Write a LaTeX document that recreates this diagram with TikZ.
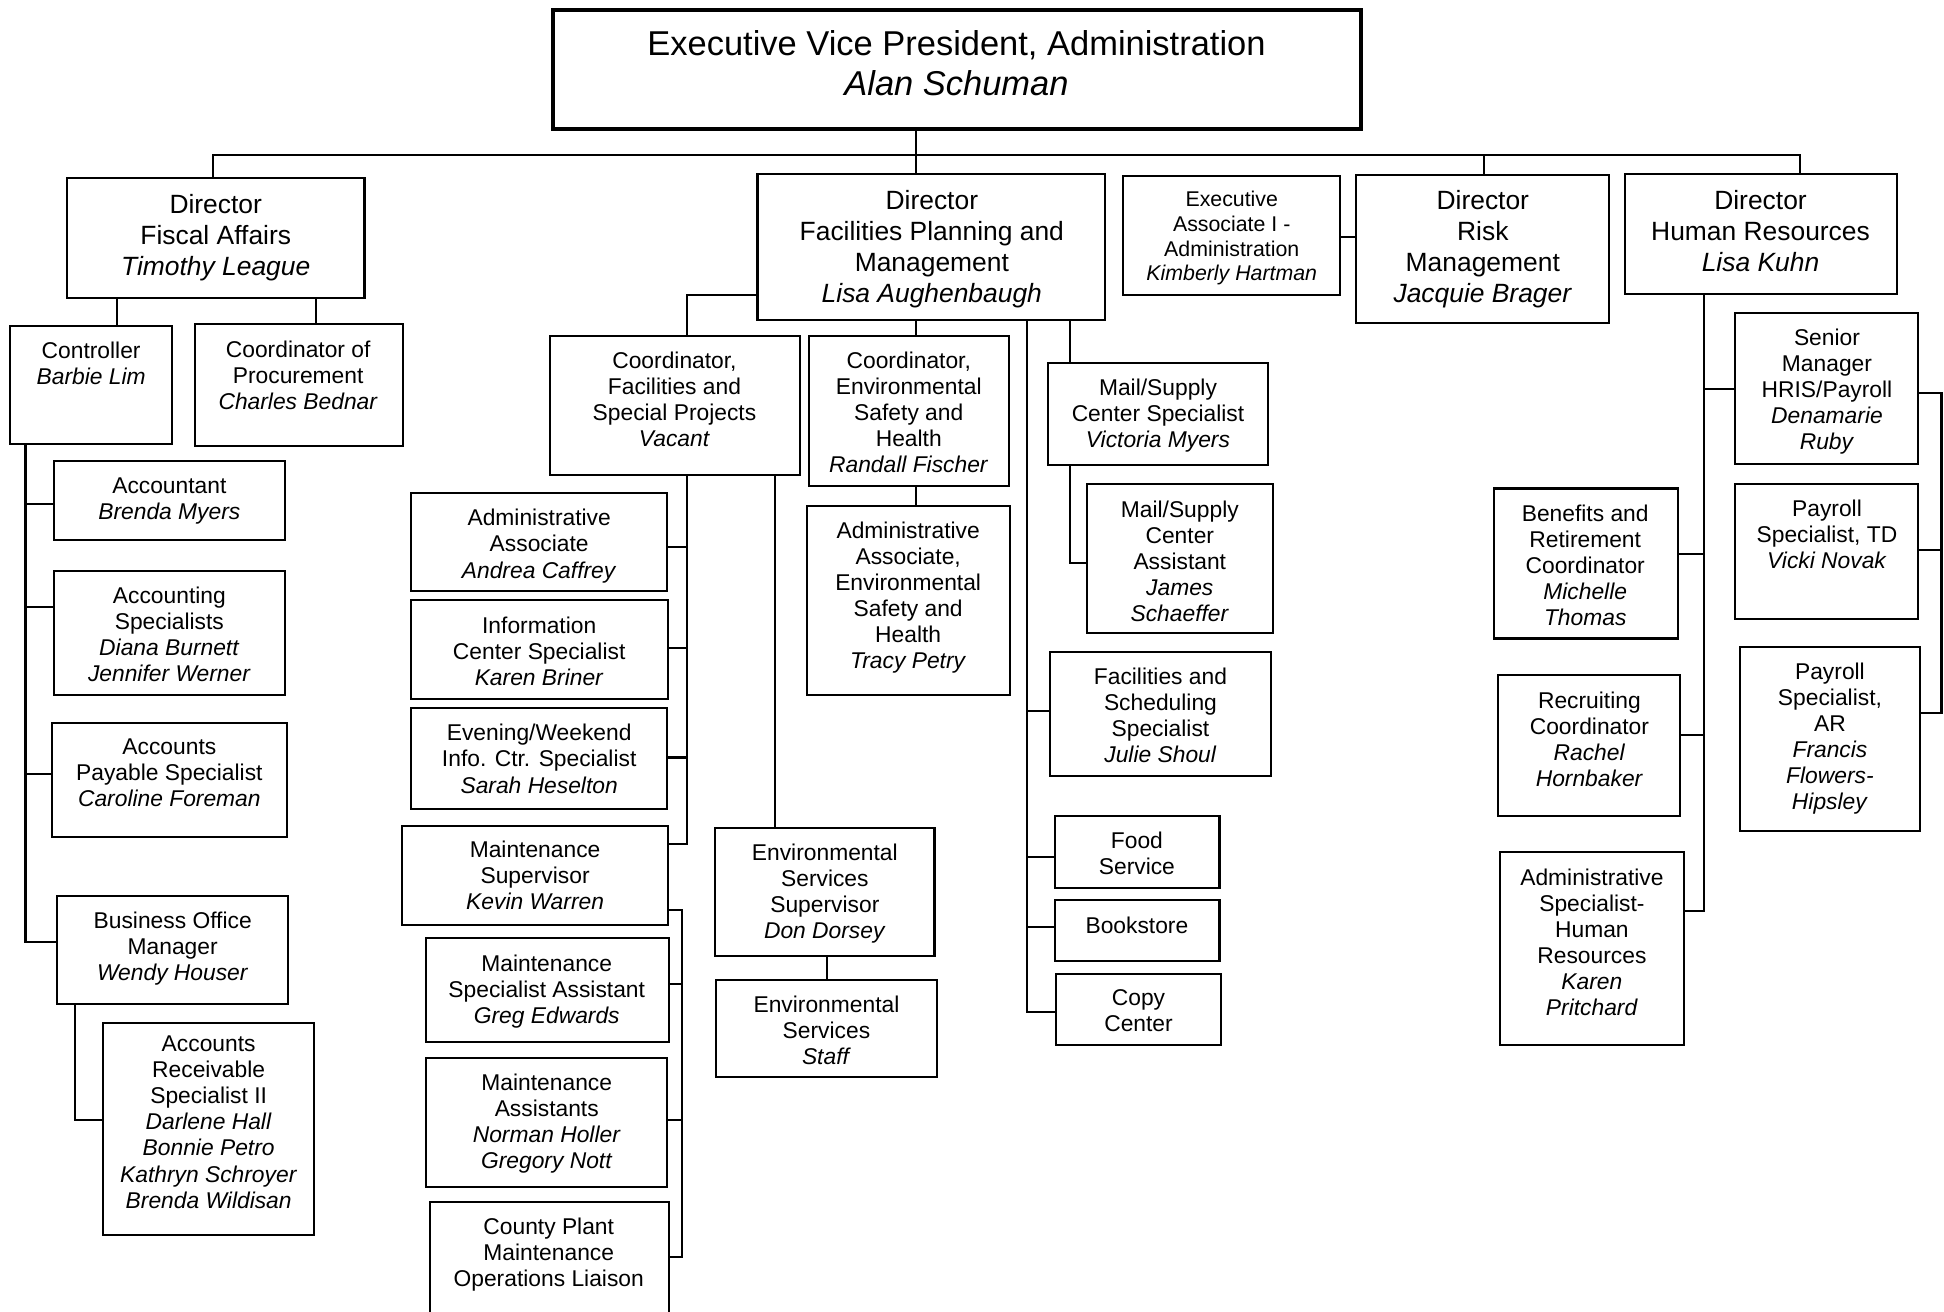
\documentclass[tikz,border=0pt]{standalone}
\usepackage{fontspec}
\setmainfont{Liberation Sans}
\tikzset{
  box/.style={draw, rectangle, line width=1.7pt, inner sep=0pt, outer sep=0pt},
  evpbox/.style={box, line width=3.4pt},
  conn/.style={line width=1.7pt, line cap=rect},
  tbase/.style={align=center, inner sep=0pt, outer sep=0pt, execute at begin node=\strut, execute at end node=\strut},
  ts/.style={tbase, font=\fontsize{18.4}{21}\selectfont},
  tea/.style={tbase, font=\fontsize{17.2}{20}\selectfont},
  td/.style={tbase, font=\fontsize{21.3}{25}\selectfont},
  tx/.style={tbase, font=\fontsize{27.8}{32}\selectfont}
}
\newcommand{\bx}[6][box]{\node[#1, minimum width={((#5)-(#3))*1pt}, minimum height={((#6)-(#4))*1pt}] (#2) at ({((#3)+(#5))/2},{((#4)+(#6))/2}) {};}
\newcommand{\lbl}[5]{\node[#1] (#2) at (#3,{(#4)+3.3}) {#5};}
\begin{document}
\begin{tikzpicture}[x=1pt,y=-1pt]
\fill[white] (0,0) rectangle (1568,1058);
\clip (0,0) rectangle (1568,1058);
\useasboundingbox (0,0) rectangle (1568,1058);

% ---------- boxes ----------
\bx[evpbox]{evp}{446}{8}{1098}{104}
\bx{fiscal}{54}{143.4}{294}{240}
\bx{ctrl}{8}{263}{139}{358}
\bx{proc}{157}{261.5}{325}{360}
\bx{acct}{43.4}{372}{230}{435.4}
\bx{acsp}{43.4}{460.7}{230}{560.8}
\bx{ap}{41.7}{583}{231.6}{675}
\bx{bom}{46}{722.9}{232.3}{810}
\bx{ar}{83.3}{825}{253.3}{996}
\bx{facil}{611}{140.3}{891.3}{258}
\bx{cfsp}{443.3}{271}{645}{383.4}
\bx{ces}{652.3}{271}{813.6}{392.3}
\bx{aae}{651}{408.1}{814.6}{560.8}
\bx{ea}{906}{141.7}{1081}{238}
\bx{risk}{1093.7}{141}{1298}{260.3}
\bx{hr}{1311}{140.3}{1530}{237.1}
\bx{msc}{845.6}{292.5}{1022.8}{375.3}
\bx{msa}{876.6}{390.7}{1026.6}{510.6}
\bx{fss}{846.7}{525.9}{1025.3}{625.9}
\bx{food}{851}{658.4}{983.6}{716.2}
\bx{book}{851}{726.2}{983.6}{775.4}
\bx{copy}{852}{785.3}{984.9}{843}
\bx{aa}{331.6}{397.6}{538.3}{476.7}
\bx{ic}{331.6}{484.2}{538.5}{563.5}
\bx{ew}{331.6}{571}{538}{652.8}
\bx{ms}{324}{666.2}{538.5}{746.3}
\bx{msb}{343.3}{756.6}{539.3}{840.5}
\bx{mas}{343.3}{853.4}{538.3}{957.4}
\bx{cpl}{346.7}{969.5}{539.3}{1080}
\bx{ess}{576.7}{667.6}{753.7}{771}
\bx{staff}{577.7}{790.7}{756}{868.7}
\bx{sm}{1399.6}{252.7}{1547}{374}
\bx{ptd}{1399.6}{390.6}{1547}{499}
\bx{par}{1403.6}{521.9}{1548.3}{670}
\bx{ben}{1204.7}{394}{1353.6}{515}
\bx{rec}{1208}{544.2}{1355.3}{658.4}
\bx{ahr}{1209.6}{687.2}{1358}{843}

% ---------- texts ----------
\lbl{tx}{Tevp}{771.5}{52.5}{Executive Vice President, Administration\\\textit{Alan Schuman}}
\lbl{td}{Tfiscal}{174}{189.9}{Director\\Fiscal Affairs\\\textit{Timothy League}}
\lbl{ts}{Tctrl}{73.5}{292.5}{Controller\\\textit{Barbie Lim}}
\lbl{ts}{Tproc}{240.5}{302.7}{Coordinator of\\Procurement\\\textit{Charles Bednar}}
\lbl{ts}{Tacct}{136.6}{402}{Accountant\\\textit{Brenda Myers}}
\lbl{ts}{Tacsp}{136.6}{511.7}{Accounting\\Specialists\\\textit{Diana Burnett}\\\textit{Jennifer Werner}}
\lbl{ts}{Tap}{136.6}{623.4}{Accounts\\Payable Specialist\\\textit{Caroline Foreman}}
\lbl{ts}{Tbom}{139.3}{763}{Business Office\\Manager\\\textit{Wendy Houser}}
\lbl{ts}{Tar}{168.3}{904.9}{Accounts\\Receivable\\Specialist II\\\textit{Darlene Hall}\\\textit{Bonnie Petro}\\\textit{Kathryn Schroyer}\\\textit{Brenda Wildisan}}
\lbl{td}{Tfacil}{751.6}{199}{Director\\Facilities Planning and\\Management\\\textit{Lisa Aughenbaugh}}
\lbl{ts}{Tcfsp}{544}{321.5}{Coordinator,\\Facilities and\\Special Projects\\\textit{Vacant}}
\lbl{ts}{Tces}{733}{332}{Coordinator,\\Environmental\\Safety and\\Health\\\textit{Randall Fischer}}
\lbl{ts}{Taae}{732.5}{480.1}{Administrative\\Associate,\\Environmental\\Safety and\\Health\\\textit{Tracy Petry}}
\lbl{tea}{Tea}{993.5}{190}{Executive\\Associate I -\\Administration\\\textit{Kimberly Hartman}}
\lbl{td}{Trisk}{1196}{199.6}{Director\\Risk\\Management\\\textit{Jacquie Brager}}
\lbl{td}{Thr}{1420}{186.9}{Director\\Human Resources\\\textit{Lisa Kuhn}}
\lbl{ts}{Tmsc}{934}{333}{Mail/Supply\\Center Specialist\\\textit{Victoria Myers}}
\lbl{ts}{Tmsa}{951.6}{452.2}{Mail/Supply\\Center\\Assistant\\\textit{James}\\\textit{Schaeffer}}
\lbl{ts}{Tfss}{936}{577}{Facilities and\\Scheduling\\Specialist\\\textit{Julie Shoul}}
\lbl{ts}{Tfood}{917}{688}{Food\\Service}
\lbl{ts}{Tbook}{917}{745.5}{Bookstore}
\lbl{ts}{Tcopy}{918.3}{815.3}{Copy\\Center}
\lbl{ts}{Taa}{434.9}{438.4}{Administrative\\Associate\\\textit{Andrea Caffrey}}
\lbl{ts}{Tic}{434.9}{524.8}{Information\\Center Specialist\\\textit{Karen Briner}}
\lbl{ts}{Tew}{434.9}{611.8}{Evening/Weekend\\Info. Ctr. Specialist\\\textit{Sarah Heselton}}
\lbl{ts}{Tms}{431.6}{706}{Maintenance\\Supervisor\\\textit{Kevin Warren}}
\lbl{ts}{Tmsb}{441}{797.4}{Maintenance\\Specialist Assistant\\\textit{Greg Edwards}}
\lbl{ts}{Tmas}{441}{904.5}{Maintenance\\Assistants\\\textit{Norman Holler}\\\textit{Gregory Nott}}
\lbl{ts}{Tcpl}{442.6}{1010}{County Plant\\Maintenance\\Operations Liaison}
\lbl{ts}{Tess}{665.3}{719}{Environmental\\Services\\Supervisor\\\textit{Don Dorsey}}
\lbl{ts}{Tstaff}{666.6}{831}{Environmental\\Services\\\textit{Staff}}
\lbl{ts}{Tsm}{1473.6}{314}{Senior\\Manager\\HRIS/Payroll\\\textit{Denamarie}\\\textit{Ruby}}
\lbl{ts}{Tptd}{1473.6}{431}{Payroll\\Specialist, TD\\\textit{Vicki Novak}}
\lbl{ts}{Tpar}{1476}{593.5}{Payroll\\Specialist,\\AR\\\textit{Francis}\\\textit{Flowers-}\\\textit{Hipsley}}
\lbl{ts}{Tben}{1278.6}{455.7}{Benefits and\\Retirement\\Coordinator\\\textit{Michelle}\\\textit{Thomas}}
\lbl{ts}{Trec}{1282}{595.8}{Recruiting\\Coordinator\\\textit{Rachel}\\\textit{Hornbaker}}
\lbl{ts}{Tahr}{1284}{759.8}{Administrative\\Specialist-\\Human\\Resources\\\textit{Karen}\\\textit{Pritchard}}

% ---------- connectors ----------
% top bus
\coordinate (jF) at (172,125);
\coordinate (jD) at (739,125);
\coordinate (jR) at (1197,125);
\coordinate (jH) at (1452,125);
\draw[conn] (evp.south -| jD) -- (facil.north -| jD);
\draw[conn] (fiscal.north -| jF) -- (jF) -- (jH) -- (hr.north -| jH);
\draw[conn] (jR) -- (risk.north -| jR);

% fiscal affairs
\coordinate (xCt) at (94.5,0);
\coordinate (xPr) at (255,0);
\draw[conn] (fiscal.south -| xCt) -- (ctrl.north -| xCt);
\draw[conn] (fiscal.south -| xPr) -- (proc.north -| xPr);
\coordinate (jB) at (20.6,760);
\draw[conn] (ctrl.south -| jB) -- (jB) -- (jB -| bom.west);
\coordinate (j1) at (20.6,406.5);
\coordinate (j2) at (20.6,489.6);
\coordinate (j3) at (20.6,624);
\draw[conn] (j1) -- (j1 -| acct.west);
\draw[conn] (j2) -- (j2 -| acsp.west);
\draw[conn] (j3) -- (j3 -| ap.west);
\coordinate (jAR) at (60.3,903);
\draw[conn] (bom.south -| jAR) -- (jAR) -- (jAR -| ar.west);

% facilities
\coordinate (jCF) at (554,237.7);
\draw[conn] (jCF -| facil.west) -- (jCF) -- (cfsp.north -| jCF);
\coordinate (xCE) at (738.7,0);
\draw[conn] (facil.south -| xCE) -- (ces.north -| xCE);
\coordinate (jCopy) at (828.6,816.3);
\draw[conn] (facil.south -| jCopy) -- (jCopy) -- (jCopy -| copy.west);
\coordinate (jFs) at (828.6,573.5);
\coordinate (jFo) at (828.6,691.2);
\coordinate (jBk) at (828.6,747.7);
\draw[conn] (jFs) -- (jFs -| fss.west);
\draw[conn] (jFo) -- (jFo -| food.west);
\draw[conn] (jBk) -- (jBk -| book.west);
\coordinate (xMl) at (863.3,0);
\draw[conn] (facil.south -| xMl) -- (msc.north -| xMl);
\coordinate (jMA) at (863.3,454.1);
\draw[conn] (msc.south -| jMA) -- (jMA) -- (jMA -| msa.west);

% coordinator facilities
\coordinate (jMS) at (554.3,681);
\draw[conn] (cfsp.south -| jMS) -- (jMS) -- (jMS -| ms.east);
\coordinate (jAa) at (554.3,441.2);
\coordinate (jIc) at (554.3,522.4);
\coordinate (jEw) at (554.3,611);
\draw[conn] (jAa) -- (jAa -| aa.east);
\draw[conn] (jIc) -- (jIc -| ic.east);
\draw[conn] (jEw) -- (jEw -| ew.east);
\coordinate (xES) at (625,0);
\draw[conn] (cfsp.south -| xES) -- (ess.north -| xES);
\coordinate (jMt) at (550.3,734.3);
\coordinate (jCP) at (550.3,1014);
\draw[conn] (jMt -| ms.east) -- (jMt) -- (jCP) -- (jCP -| cpl.east);
\coordinate (jMb) at (550.3,794);
\coordinate (jMa) at (550.3,903.6);
\draw[conn] (jMb) -- (jMb -| msb.east);
\draw[conn] (jMa) -- (jMa -| mas.east);
\coordinate (xSt) at (667,0);
\draw[conn] (ess.south -| xSt) -- (staff.north -| xSt);
\coordinate (xAE) at (738.6,0);
\draw[conn] (ces.south -| xAE) -- (aae.north -| xAE);

% exec associate
\coordinate (jEA) at (0,191);
\draw[conn] (ea.east |- jEA) -- (risk.west |- jEA);

% human resources
\coordinate (jAH) at (1374.3,735);
\draw[conn] (hr.south -| jAH) -- (jAH) -- (jAH -| ahr.east);
\coordinate (jSm) at (1374.3,313.8);
\coordinate (jBe) at (1374.3,446.6);
\coordinate (jRe) at (1374.3,593);
\draw[conn] (jSm) -- (jSm -| sm.west);
\draw[conn] (jBe) -- (jBe -| ben.east);
\draw[conn] (jRe) -- (jRe -| rec.east);
\coordinate (jSR) at (1566,316.7);
\coordinate (jPA) at (1566,575);
\coordinate (jPT) at (1566,443.8);
\draw[conn] (jSR -| sm.east) -- (jSR) -- (jPA) -- (jPA -| par.east);
\draw[conn] (jPT) -- (jPT -| ptd.east);
\end{tikzpicture}
\end{document}
